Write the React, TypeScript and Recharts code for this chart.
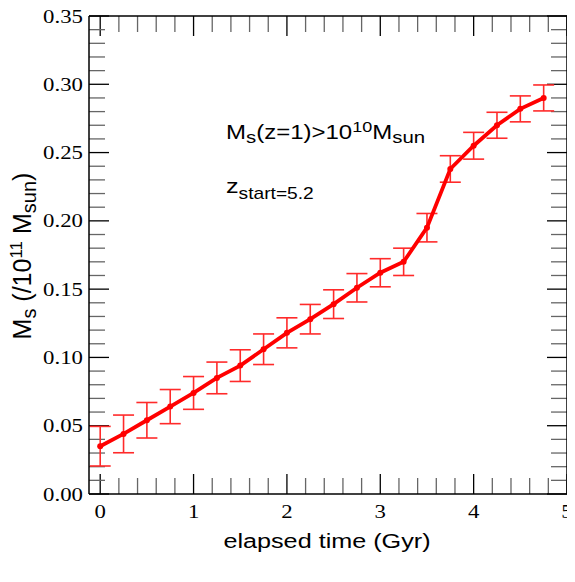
import React from 'react';
import { LineChart, Line, XAxis, YAxis, ErrorBar, Customized, ReferenceLine } from 'recharts';

// elapsed time (Gyr)
const times = [0, 0.25, 0.5, 0.75, 1.0, 1.25, 1.5, 1.75, 2.0, 2.25, 2.5, 2.75, 3.0, 3.25, 3.5, 3.75, 4.0, 4.25, 4.5, 4.75];
// stellar mass (/1e11 Msun)
const masses = [0.035, 0.044, 0.054, 0.064, 0.074, 0.085, 0.094, 0.106, 0.118, 0.128, 0.139, 0.151, 0.162, 0.170, 0.195, 0.238, 0.255, 0.270, 0.282, 0.290];
// symmetric errors
const errors = [0.0145, 0.0138, 0.013, 0.0125, 0.012, 0.0116, 0.0116, 0.0112, 0.011, 0.0108, 0.0105, 0.0104, 0.0103, 0.010, 0.0104, 0.0097, 0.0098, 0.0095, 0.0095, 0.0095];

const xMajorTicks = [0, 1, 2, 3, 4, 5];
const xMinorTicks = [0.2, 0.4, 0.6, 0.8, 1.2, 1.4, 1.6, 1.8, 2.2, 2.4, 2.6, 2.8, 3.2, 3.4, 3.6, 3.8, 4.2, 4.4, 4.6, 4.8];
const yMajorTicks = [0, 0.05, 0.1, 0.15, 0.2, 0.25, 0.3, 0.35];
const yMinorTicks = [0.01, 0.02, 0.03, 0.04, 0.06, 0.07, 0.08, 0.09, 0.11, 0.12, 0.13, 0.14, 0.16, 0.17, 0.18, 0.19, 0.21, 0.22, 0.23, 0.24, 0.26, 0.27, 0.28, 0.29, 0.31, 0.32, 0.33, 0.34];

const X_MIN = -0.12;
const X_MAX = 5;
const Y_MIN = 0;
const Y_MAX = 0.35;
const xDomain = [X_MIN, X_MAX];
const yDomain = [Y_MIN, Y_MAX];

// inward tick lengths, as fractions of the axis span (plot area is 478 x 478 px)
const MAJOR_FRAC = 20 / 478;
const MINOR_FRAC = 16 / 478;

const data = times.map((t, i) => ({ t, m: masses[i], err: errors[i] }));

const SERIF = "'Liberation Serif', 'Times New Roman', serif";
const SANS = "'Liberation Sans', Arial, Helvetica, sans-serif";

const XTick = (props: any) => {
  const { x, y, payload } = props;
  return (
    <g transform={`translate(${x},${y}) scale(1.2,1)`}>
      <text textAnchor="middle" fontFamily={SERIF} fontSize={19} fill="#000">
        {String(payload.value)}
      </text>
    </g>
  );
};

const YTick = (props: any) => {
  const { x, y, payload } = props;
  return (
    <g transform={`translate(${x},${y}) scale(1.2,1)`}>
      <text textAnchor="end" dy={6.5} fontFamily={SERIF} fontSize={19} fill="#000">
        {Number(payload.value).toFixed(2)}
      </text>
    </g>
  );
};

const Texts = () => (
  <g fill="#000" fontFamily={SANS}>
    <text transform="translate(226,139) scale(1.2,1)" fontSize={20}>
      M<tspan fontSize={17} dy={4}>s</tspan>
      <tspan dy={-4}>(z=1)&gt;10</tspan>
      <tspan fontSize={15} dy={-7}>10</tspan>
      <tspan dy={7}>M</tspan>
      <tspan fontSize={17} dy={4}>sun</tspan>
    </text>
    <text transform="translate(226,193) scale(1.2,1)" fontSize={21}>
      z<tspan fontSize={16} dy={6}>start=5.2</tspan>
    </text>
    <text transform="translate(327,548) scale(1.2,1)" textAnchor="middle" fontSize={21}>
      elapsed time (Gyr)
    </text>
    <text transform="translate(31,256) rotate(-90)" textAnchor="middle" fontSize={25}>
      M<tspan fontSize={20} dy={5}>s</tspan>
      <tspan dy={-5}> (/10</tspan>
      <tspan fontSize={17} dy={-9}>11</tspan>
      <tspan dy={9}> M</tspan>
      <tspan fontSize={20} dy={5}>sun</tspan>
      <tspan dy={-5}>)</tspan>
    </text>
  </g>
);

const MAJOR_COLOR = '#000';
const MINOR_COLOR = '#666';

function tickSegments() {
  const out: any[] = [];
  const yLen = (frac: number) => (Y_MAX - Y_MIN) * frac;
  const xLen = (frac: number) => (X_MAX - X_MIN) * frac;
  const addX = (v: number, frac: number, color: string, key: string) => {
    out.push(<ReferenceLine key={`xb${key}${v}`} xAxisId="x" yAxisId="y" ifOverflow="visible"
      segment={[{ x: v, y: Y_MIN }, { x: v, y: Y_MIN + yLen(frac) }]} stroke={color} strokeWidth={1.3} />);
    out.push(<ReferenceLine key={`xt${key}${v}`} xAxisId="x" yAxisId="y" ifOverflow="visible"
      segment={[{ x: v, y: Y_MAX }, { x: v, y: Y_MAX - yLen(frac) }]} stroke={color} strokeWidth={1.3} />);
  };
  const addY = (v: number, frac: number, color: string, key: string) => {
    out.push(<ReferenceLine key={`yl${key}${v}`} xAxisId="x" yAxisId="y" ifOverflow="visible"
      segment={[{ x: X_MIN, y: v }, { x: X_MIN + xLen(frac), y: v }]} stroke={color} strokeWidth={1.3} />);
    out.push(<ReferenceLine key={`yr${key}${v}`} xAxisId="x" yAxisId="y" ifOverflow="visible"
      segment={[{ x: X_MAX, y: v }, { x: X_MAX - xLen(frac), y: v }]} stroke={color} strokeWidth={1.3} />);
  };
  xMinorTicks.forEach((v) => addX(v, MINOR_FRAC, MINOR_COLOR, 'mi'));
  xMajorTicks.forEach((v) => addX(v, MAJOR_FRAC, MAJOR_COLOR, 'ma'));
  yMinorTicks.forEach((v) => addY(v, MINOR_FRAC, MINOR_COLOR, 'mi'));
  yMajorTicks.forEach((v) => addY(v, MAJOR_FRAC, MAJOR_COLOR, 'ma'));
  return out;
}

export default function App() {
  const axisLine = { stroke: '#000', strokeWidth: 1.5 };
  return (
    <div style={{ margin: '-8px 0 0 -8px' }}>
      <LineChart width={575} height={570} data={data} margin={{ top: 15, right: 7, bottom: 75, left: 88 }}>
        <XAxis xAxisId="x" dataKey="t" type="number" domain={xDomain} allowDataOverflow ticks={xMajorTicks}
          orientation="bottom" height={1} tickSize={-20} tickMargin={44} axisLine={axisLine} tickLine={false}
          tick={XTick} interval={0} />
        <XAxis xAxisId="xtop" dataKey="t" type="number" domain={xDomain} allowDataOverflow ticks={xMajorTicks}
          orientation="top" height={1} axisLine={axisLine} tickLine={false} tick={false} interval={0} />
        <YAxis yAxisId="y" type="number" domain={yDomain} allowDataOverflow ticks={yMajorTicks}
          orientation="left" width={1} tickSize={-20} tickMargin={26} axisLine={axisLine} tickLine={false}
          tick={YTick} interval={0} />
        <YAxis yAxisId="yr" type="number" domain={yDomain} allowDataOverflow ticks={yMajorTicks}
          orientation="right" width={1} axisLine={axisLine} tickLine={false} tick={false} interval={0} />
        {tickSegments()}
        <Line xAxisId="x" yAxisId="y" dataKey="m" type="linear" stroke="#ff0000" strokeWidth={3.8}
          dot={{ r: 3, fill: '#ff0000', stroke: '#ff0000', strokeWidth: 0 }} activeDot={false} isAnimationActive={false}>
          <ErrorBar dataKey="err" direction="y" width={10.5} stroke="#ff2a2a" strokeWidth={1.6} isAnimationActive={false} />
        </Line>
        <Customized component={Texts} />
      </LineChart>
    </div>
  );
}
